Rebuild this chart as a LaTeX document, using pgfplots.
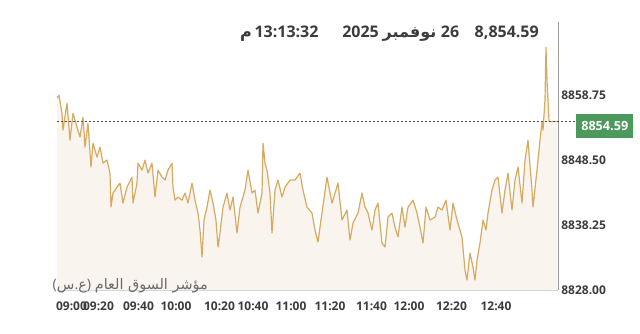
\documentclass[border=0pt]{standalone}
\usepackage{pgfplots}
\pgfplotsset{compat=1.18}
\usepackage{fontspec}
\setmainfont{Open Sans}
\newfontfamily\arabicfont[Script=Arabic]{DejaVu Sans}
\TeXXeTstate=1
\definecolor{linec}{RGB}{215,170,98}
\definecolor{fillc}{RGB}{249,244,237}
\definecolor{greenbox}{RGB}{76,153,94}
\definecolor{txt}{RGB}{60,60,60}

\pgfplotstableread{
x v
57 8858.28
59 8858.75
62 8855.91
63 8853.23
67 8857.49
70 8851.65
73 8855.91
77 8853.70
80 8852.13
83 8855.28
85 8850.55
88 8854.33
91 8847.40
93 8851.18
97 8848.97
100 8850.55
103 8848.03
107 8848.50
110 8846.45
111 8841.09
113 8843.30
117 8844.24
120 8844.87
123 8841.72
127 8844.24
132 8845.82
133 8841.72
137 8844.87
138 8848.03
142 8846.92
145 8848.50
148 8846.45
152 8848.03
155 8842.67
158 8846.92
162 8845.82
165 8845.35
168 8846.92
172 8848.03
173 8844.24
175 8842.19
178 8842.67
182 8842.19
185 8843.30
188 8841.72
192 8844.87
195 8842.19
198 8840.14
200 8837.46
202 8833.20
204 8839.04
207 8841.09
210 8843.77
213 8841.72
216 8839.04
218 8834.78
220 8836.99
223 8841.09
227 8843.30
230 8840.62
233 8842.67
237 8836.99
240 8841.09
245 8843.77
248 8846.92
252 8843.30
255 8843.77
258 8840.14
262 8843.30
263 8851.18
265 8848.03
267 8846.92
270 8843.30
272 8836.99
275 8843.77
278 8845.35
282 8842.67
285 8844.24
290 8845.35
295 8845.35
300 8846.45
303 8843.77
307 8841.09
312 8840.14
315 8837.46
318 8835.57
320 8837.93
327 8845.82
332 8841.72
338 8844.87
342 8839.04
347 8840.62
350 8835.88
353 8838.57
358 8840.14
362 8843.30
365 8841.09
368 8840.14
372 8837.46
375 8840.62
378 8841.72
382 8835.41
385 8834.78
388 8839.51
392 8840.14
395 8837.93
398 8836.36
402 8841.09
405 8837.93
408 8841.09
413 8842.19
417 8840.14
420 8837.93
423 8835.41
426 8841.09
430 8839.04
435 8839.51
438 8841.09
442 8840.62
446 8842.19
450 8837.46
453 8841.72
457 8839.04
462 8836.36
465 8831.15
467 8829.58
470 8833.83
473 8831.63
475 8829.58
477 8832.73
480 8835.41
483 8839.04
486 8837.46
488 8840.14
492 8843.77
495 8845.35
498 8845.82
502 8840.14
505 8843.77
508 8846.45
512 8840.62
515 8845.35
518 8847.40
522 8841.72
525 8848.50
528 8851.65
532 8843.77
533 8841.09
537 8846.92
540 8851.65
542 8854.49
543 8853.23
545 8857.96
546 8866.32
547 8861.11
548 8857.96
549 8854.59
557 8854.59
}\pricedata

\begin{document}
\begin{tikzpicture}
\path[use as bounding box] (0pt,0pt) rectangle (480pt,249.75pt);
\begin{axis}[
  at={(42.75pt,32.25pt)}, anchor=south west,
  scale only axis, width=375.75pt, height=201pt,
  xmin=57, xmax=558, ymin=8828, ymax=8870.3,
  axis x line*=bottom, axis y line*=right,
  x axis line style={draw=black!18,-},
  y axis line style={draw=black!40,-},
  xtick={71.5,98.5,138.5,176,219.5,253,291,330,371.5,409,451.5,496},
  xticklabels={09:00,09:20,09:40,10:00,10:20,10:40,11:00,11:20,11:40,12:00,12:20,12:40},
  ytick={8828,8838.25,8848.5,8858.75},
  yticklabels={8828.00,8838.25,8848.50,8858.75},
  major tick length=0pt,
  tick label style={font=\bfseries\fontsize{9}{10}\selectfont, text=txt},
  xticklabel style={yshift=-5.5pt},
  yticklabel style={anchor=west, xshift=-1pt},
  /pgf/number format/assume math mode=true,
]
\addplot[fill=fillc, draw=none, mark=none, forget plot] table[x=x,y=v]{\pricedata}
  -- (axis cs:557,8828) -- (axis cs:57,8828) -- cycle;
\addplot[color=linec, line width=0.9pt, mark=none, line join=round] table[x=x,y=v]{\pricedata};
\coordinate (refL) at (axis cs:57,8854.59);
\coordinate (refR) at (axis cs:558,8854.59);
\end{axis}
\draw[black!70, line width=0.8pt, dash pattern=on 1.2pt off 1.8pt] (refL) -- ([xshift=13.5pt]refR);
\node[fill=greenbox, text=white, font=\bfseries\fontsize{9.5}{11}\selectfont,
      minimum width=42.75pt, minimum height=18pt, inner sep=0pt, anchor=west]
      at ([xshift=13.5pt, yshift=-3pt]refR) {8854.59};
% header
\begin{scope}[every node/.style={inner sep=0pt, text=txt, font=\bfseries\fontsize{12}{14}\selectfont}]
\node[anchor=base east] at (404.25pt,221.6pt) {8,854.59};
\node[anchor=base] at (337.5pt,221.6pt) {26};
\node[anchor=base] at (307.1pt,221.6pt) {\arabicfont نوفمبر};
\node[anchor=base] at (270.4pt,221.6pt) {2025};
\node[anchor=base] at (214.9pt,221.6pt) {13:13:32};
\node[anchor=base] at (184.5pt,221.6pt) {\arabicfont م};
\end{scope}
\node[anchor=base east, inner sep=0pt, text=black!58, font=\fontsize{10.8}{12}\selectfont]
  at (156pt,33pt) {\mbox{(}\mbox{\arabicfont س}\mbox{.}\mbox{\arabicfont ع}\mbox{)} \mbox{\arabicfont\beginR مؤشر السوق العام\endR}};
\end{tikzpicture}
\end{document}
